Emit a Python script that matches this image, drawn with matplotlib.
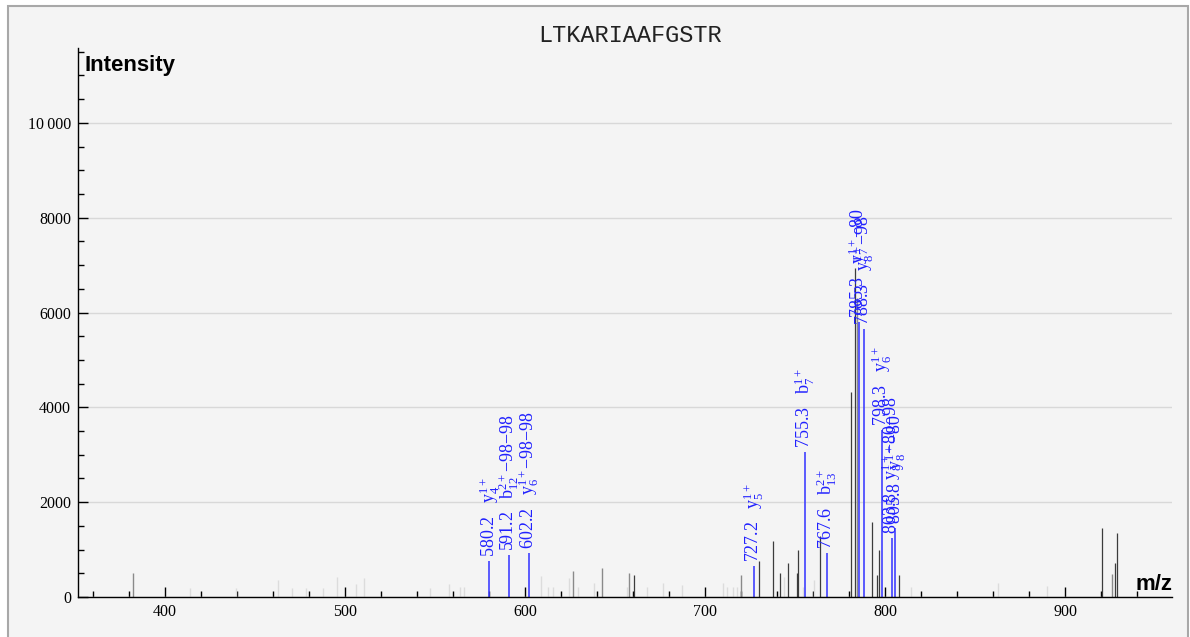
import matplotlib
matplotlib.use("Agg")
import matplotlib.pyplot as plt
from matplotlib.ticker import MultipleLocator, FuncFormatter
from matplotlib.patches import Rectangle

plt.rcParams['mathtext.fontset'] = 'custom'
plt.rcParams['mathtext.rm'] = 'Liberation Serif'
plt.rcParams['mathtext.it'] = 'Liberation Serif:italic'

title = "LTKARIAAFGSTR"

# unassigned peaks, faint
light_mz = [414.0, 439.4, 463.0, 470.5, 478.3, 488.0, 495.5, 506.0, 510.5, 547.5, 558.0, 564.0, 566.0,
            609.0, 612.5, 615.5, 624.5, 629.5, 638.5, 656.7, 667.7, 676.7, 687.0, 710.0, 712.0, 715.5,
            717.5, 743.8, 754.6, 760.5, 814.4, 862.8, 890.0]
light_int = [200, 200, 350, 200, 200, 200, 420, 270, 400, 200, 280, 220, 220,
             440, 220, 220, 400, 220, 300, 220, 220, 300, 250, 300, 220, 220,
             220, 420, 220, 350, 220, 300, 230]

# unassigned peaks, medium gray
gray_mz = [382.2, 626.5, 642.8, 657.8, 720.1, 784.4, 926.1]
gray_int = [500, 550, 610, 500, 460, 6300, 480]

# unassigned peaks, dark
dark_mz = [660.5, 730.0, 737.8, 741.7, 746.0, 751.0, 751.7, 763.9, 781.1, 783.3, 792.8, 795.5,
           796.7, 807.8, 920.6, 927.8, 929.0]
dark_int = [460, 760, 1180, 500, 710, 500, 1000, 1290, 4330, 6950, 1580, 460,
            990, 460, 1450, 720, 1350]

# annotated peaks
ann_mz = [580.2, 591.2, 602.2, 727.2, 755.3, 767.6, 785.3, 788.3, 798.3, 803.8, 805.8]
ann_int = [760, 880, 930, 650, 3060, 930, 5800, 5650, 3520, 1250, 1450]
ann_lab = [r"$\mathrm{y}_{4}^{1+}$",
           r"$\mathrm{b}_{12}^{2+}$" + "\u221298\u221298",
           r"$\mathrm{y}_{6}^{1+}$" + "\u221298\u221298",
           r"$\mathrm{y}_{5}^{1+}$",
           r"$\mathrm{b}_{7}^{1+}$",
           r"$\mathrm{b}_{13}^{2+}$",
           r"$\mathrm{y}_{7}^{1+}$" + "\u221280",
           r"$\mathrm{y}_{8}^{1+}$" + "\u221298",
           r"$\mathrm{y}_{6}^{1+}$",
           r"$\mathrm{y}_{8}^{1+}$" + "\u221280\u221298",
           r"$\mathrm{y}_{8}^{1+}$" + "\u221280"]

fig = plt.figure(figsize=(11.9, 6.37), dpi=100)
fig.patch.set_facecolor('white')
fig.add_artist(Rectangle((8/1190, -0.05), (1188-8)/1190, 1.05 - 6/637, transform=fig.transFigure,
                         facecolor='#f4f4f4', edgecolor='#a8a8a8', lw=1.5, zorder=-10))

ax = fig.add_axes([78/1190, 40/637, (1172-78)/1190, (597-48)/637])
ax.set_facecolor('none')

ax.vlines(light_mz, 0, light_int, colors='#dcdcdc', lw=1.0)
ax.vlines(gray_mz, 0, gray_int, colors='#8a8a8a', lw=1.0)
ax.vlines(dark_mz, 0, dark_int, colors='#3c3c3c', lw=0.9)
ax.vlines(ann_mz, 0, ann_int, colors='#4040ff', lw=1.2)

for m, v, lab in zip(ann_mz, ann_int, ann_lab):
    ax.annotate(f"{m:.1f}   " + lab, xy=(m, v), xytext=(0, 3), textcoords='offset points',
                rotation=90, ha='center', va='bottom', color='#2020ff', fontsize=13,
                family='Liberation Serif')

ax.set_xlim(351.7, 959.4)
ax.set_ylim(0, 11580)

for s in ['top', 'right']:
    ax.spines[s].set_visible(False)
for s in ['left', 'bottom']:
    ax.spines[s].set_color('black')
    ax.spines[s].set_linewidth(1.0)

ax.xaxis.set_major_locator(MultipleLocator(100))
ax.xaxis.set_minor_locator(MultipleLocator(20))
ax.yaxis.set_major_locator(MultipleLocator(2000))
ax.yaxis.set_minor_locator(MultipleLocator(500))
ax.yaxis.set_major_formatter(FuncFormatter(
    lambda v, p: f"{int(v):,}".replace(",", "\u2009") if v >= 10000 else f"{int(v)}"))
ax.tick_params(which='major', direction='in', length=7, width=1, labelsize=11.5, pad=5)
ax.tick_params(which='minor', direction='in', length=4, width=1)
for t in ax.get_xticklabels() + ax.get_yticklabels():
    t.set_family('Liberation Serif')

ax.yaxis.grid(True, color='#d8d8d8', lw=1.0)
ax.set_axisbelow(True)

fig.text(630/1190, 1 - 42/637, title, family='Liberation Mono', fontsize=17,
         ha='center', va='baseline', color='#222222')
fig.text(85/1190, 1 - 71/637, "Intensity", family='Liberation Sans', fontweight='bold',
         fontsize=16, va='baseline')
fig.text(1172/1190, 1 - 590/637, "m/z", family='Liberation Sans', fontweight='bold',
         fontsize=16, ha='right', va='baseline')

fig.savefig("out.png", dpi=100)
